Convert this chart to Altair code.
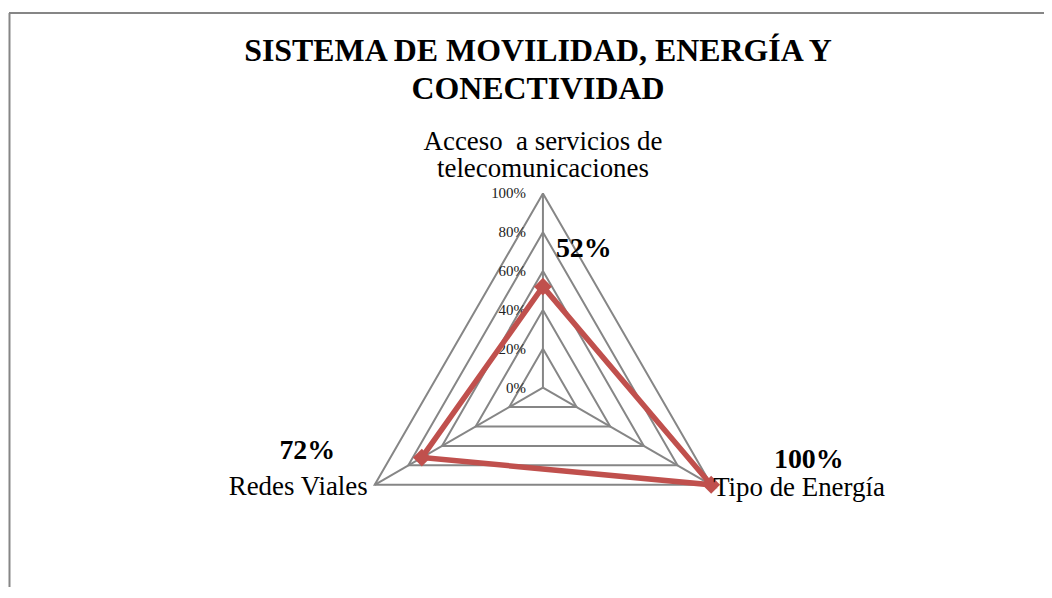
import math
import altair as alt
import pandas as pd

# ---- data ----
title_lines = ["SISTEMA DE MOVILIDAD, ENERGÍA Y", "CONECTIVIDAD"]
categories = ["Acceso  a servicios de telecomunicaciones", "Tipo de Energía", "Redes Viales"]
category_lines = [["Acceso \u00a0a servicios de", "telecomunicaciones"], ["Tipo de Energía"], ["Redes Viales"]]
values = [0.52, 1.00, 0.72]
value_labels = ["52%", "100%", "72%"]
tick_values = [0.0, 0.2, 0.4, 0.6, 0.8, 1.0]
tick_labels = ["0%", "20%", "40%", "60%", "80%", "100%"]

# ---- layout (pixels) ----
W, H = 1040, 580
CX, CY, R = 537, 380, 195
xs = alt.Scale(domain=[-CX / R, (W - CX) / R], nice=False, zero=False)
ys = alt.Scale(domain=[CY / R - H / R, CY / R], nice=False, zero=False)

SERIF = "Liberation Serif"
GRID = "#868686"
RED = "#C0504D"


def angle(i):
    return math.radians(90 - 120 * i)


# grid polygons
grid_rows = []
for lv in tick_values[1:]:
    for j in range(4):
        a = angle(j % 3)
        grid_rows.append({"level": lv, "ord": j, "x": lv * math.cos(a), "y": lv * math.sin(a)})
grid_df = pd.DataFrame(grid_rows)

spoke_df = pd.DataFrame([
    {"cat": c, "x0": 0.0, "y0": 0.0, "x": math.cos(angle(i)), "y": math.sin(angle(i))}
    for i, c in enumerate(categories)
])

series_rows = []
for j in range(4):
    i = j % 3
    a = angle(i)
    series_rows.append({"ord": j, "cat": categories[i], "v": values[i], "lab": value_labels[i],
                        "x": values[i] * math.cos(a), "y": values[i] * math.sin(a)})
series_df = pd.DataFrame(series_rows)
points_df = series_df[series_df["ord"] < 3]

tick_df = pd.DataFrame({"x": [0.0] * len(tick_values), "y": tick_values, "lab": tick_labels})

X = lambda f="x": alt.X(f"{f}:Q", scale=xs, axis=None)
Y = lambda f="y": alt.Y(f"{f}:Q", scale=ys, axis=None)

frame_top = alt.Chart(pd.DataFrame({"a": [0]})).mark_rule(color=GRID, strokeWidth=2).encode(
    x=alt.value(1), x2=alt.value(W), y=alt.value(4))
frame_left = alt.Chart(pd.DataFrame({"a": [0]})).mark_rule(color=GRID, strokeWidth=2).encode(
    x=alt.value(1.5), y=alt.value(4), y2=alt.value(H))

title = alt.Chart(pd.DataFrame({"a": [0]})).mark_text(
    text=title_lines, font=SERIF, fontSize=32, fontWeight="bold", lineHeight=38,
    align="center", baseline="alphabetic", color="black"
).encode(x=alt.value(532), y=alt.value(52))

grid = alt.Chart(grid_df).mark_line(color=GRID, strokeWidth=2).encode(
    x=X(), y=Y(), detail="level:N", order="ord:Q")

spokes = alt.Chart(spoke_df).mark_rule(color=GRID, strokeWidth=2).encode(
    x=X("x0"), y=Y("y0"), x2="x:Q", y2="y:Q")

ticks = alt.Chart(tick_df).mark_text(
    font=SERIF, fontSize=15, align="right", baseline="middle", dx=-17, color="#222"
).encode(x=X(), y=Y(), text="lab:N")

line = alt.Chart(series_df).mark_line(color=RED, strokeWidth=5.5, strokeJoin="miter").encode(
    x=X(), y=Y(), order="ord:Q")

pts = alt.Chart(points_df).mark_point(shape="diamond", filled=True, opacity=1, size=320, color=RED).encode(
    x=X(), y=Y())


def val_label(i, dx, dy):
    return alt.Chart(points_df).transform_filter(alt.datum.cat == categories[i]).mark_text(
        font=SERIF, fontSize=28, fontWeight="bold", align="center", baseline="middle",
        dx=dx, dy=dy, color="black"
    ).encode(x=X(), y=Y(), text="lab:N")


def cat_label(i, align, dx, dy, lh=27):
    return alt.Chart(spoke_df).transform_filter(alt.datum.cat == categories[i]).mark_text(
        text=category_lines[i], font=SERIF, fontSize=27, lineHeight=lh, align=align,
        baseline="alphabetic", dx=dx, dy=dy, color="black"
    ).encode(x=X(), y=Y())


chart = alt.layer(
    frame_top, frame_left, title, grid, spokes, ticks, line, pts,
    val_label(0, 41, -38), val_label(1, 98, -25), val_label(2, -115, -7),
    cat_label(0, "center", 0, -44, lh=28), cat_label(1, "left", 2, 11), cat_label(2, "right", -7, 10),
).properties(
    width=W, height=H, autosize=alt.AutoSizeParams(type="none"), padding=0
).configure_view(stroke=None)

chart.save("out.html", embed_options={"renderer": "svg", "actions": False})
